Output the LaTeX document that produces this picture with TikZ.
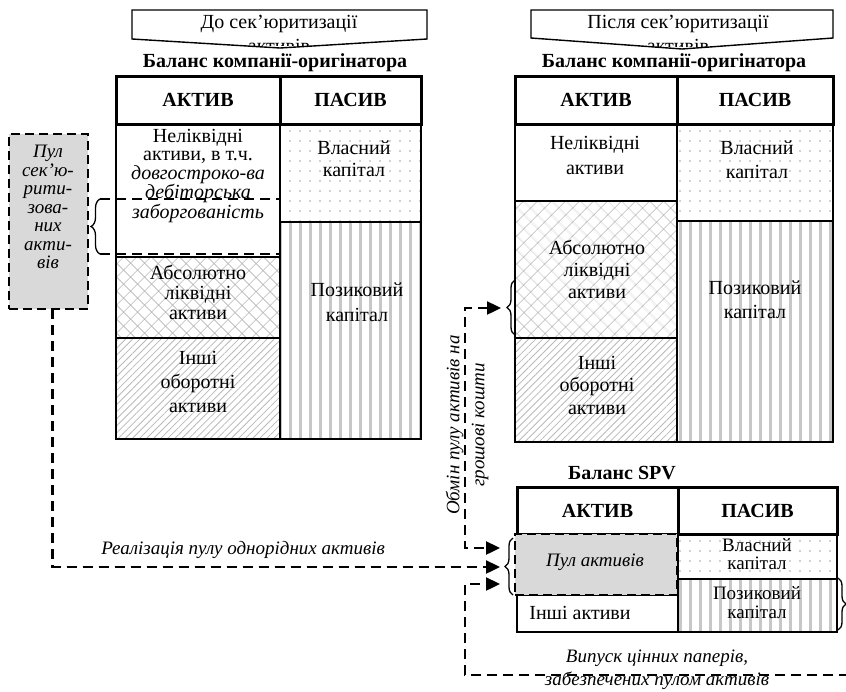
\documentclass[tikz,border=0pt]{standalone}
\usepackage{fontspec}
\setmainfont{Liberation Serif}
\usetikzlibrary{patterns.meta,decorations.pathreplacing,arrows.meta,fit}

\begin{document}
\begin{tikzpicture}[x=1pt,y=-1pt,
  every node/.style={inner sep=0pt, outer sep=0pt},
  txt/.style={font=\fontsize{20}{#1}\selectfont, align=center},
  txt/.default=20,
  stxt/.style={font=\fontsize{19}{#1}\selectfont, align=center},
  stxt/.default=18,
  itxt/.style={font=\fontsize{19}{#1}\selectfont\itshape, align=center},
  itxt/.default=20,
  ttl/.style={font=\fontsize{20}{20}\selectfont\bfseries},
  cellbox/.style={draw, line width=1.6pt},
  headbox/.style={draw, line width=3pt},
  dotfill/.style={pattern={Dots[radius=0.9pt,distance=10pt]}, pattern color=black!35},
  stripefill/.style={pattern={Lines[angle=90,distance=10pt,line width=3pt]}, pattern color=black!22},
  crossfill/.style={pattern={Hatch[angle=45,distance=10.5pt,line width=0.8pt]}, pattern color=black!28},
  diagfill/.style={pattern={Lines[angle=45,distance=5pt,line width=0.8pt]}, pattern color=black!28},
  poolbox/.style={fill=black!15, draw, line width=2.6pt, dash pattern=on 9pt off 5pt},
  flow/.style={line width=2.4pt, dash pattern=on 10pt off 6pt},
  bracket/.style={decorate, decoration={brace, amplitude=#1}, line width=1.3pt},
  bracket/.default=9pt,
  >={Triangle[length=14pt,width=13pt]},
  banner/.style={draw, fill=white, line width=1.4pt}
]
\useasboundingbox (0,0) rectangle (846,691);

% ---------- banners (overflowing second line is cut by the shape) ----------
\draw[banner] (132,10) -- (427,10) -- (427,39) -- (280,48) -- (132,39) -- cycle;
\begin{scope}
  \clip (132,0) rectangle (427,45.5);
  \node[txt=24] (bannerL) at (279,33.5) {До сек’юритизації\\активів};
\end{scope}
\draw[banner] (531,10) -- (833,10) -- (833,38) -- (682,49) -- (531,38) -- cycle;
\begin{scope}
  \clip (531,0) rectangle (833,46);
  \node[txt=24] (bannerR) at (678,33.5) {Після сек’юритизації\\активів};
\end{scope}

% ---------- originator balance, before ----------
\node[ttl] (titleL) at (275,63) {Баланс компанії-оригінатора};
\node[cellbox, fit={(116,124)(280,257)}] (L1) {};
\node[cellbox, crossfill, fit={(116,257)(280,338)}] (L2) {};
\node[cellbox, diagfill, fit={(116,338)(280,439)}] (L3) {};
\node[cellbox, dotfill, fit={(280,124)(421,222)}] (L4) {};
\node[cellbox, stripefill, fit={(280,222)(421,439)}] (L5) {};
\node[headbox, fit={(116,76)(280,124)}] (hLa) {};
\node[headbox, fit={(280,76)(421,124)}] (hLp) {};
\node[ttl] at (hLa.center) {АКТИВ};
\node[ttl] at (hLp.center) {ПАСИВ};
\node[txt=18.5] (tL1) at (198,176) {Неліквідні\\активи, в т.ч.\\\textit{довгостроко-ва}\\\textit{дебіторська}\\\textit{заборгованість}};
\node[txt=20] (tL2) at (198,292) {Абсолютно\\ліквідні\\активи};
\node[txt=24] (tL3) at (198,382) {Інші\\оборотні\\активи};
\node[txt=22] (tL4) at (354,159) {Власний\\капітал};
\node[txt=25] (tL5) at (357,302) {Позиковий\\капітал};

% part of the illiquid assets that forms the pool
\coordinate (segTop) at (100,199);
\coordinate (segBot) at (100,254);
\draw[flow] (segTop) -- (L1.east |- segTop);
\draw[flow] (segBot) -- (L1.east |- segBot);
\draw[bracket=9pt] (segBot) -- (segTop);

% pool of securitised assets
\node[poolbox, fit={(9,134)(88,309)}] (poolL) {};
\node[itxt=18.5] (tPool) at (48,207) {Пул\\сек’ю-\\рити-\\зова-\\них\\акти-\\вів};

% ---------- originator balance, after ----------
\node[ttl] (titleR) at (674,63) {Баланс компанії-оригінатора};
\node[cellbox, fit={(515,124)(677,201)}] (R1) {};
\node[cellbox, crossfill, fit={(515,201)(677,338)}] (R2) {};
\node[cellbox, diagfill, fit={(515,338)(677,442)}] (R3) {};
\node[cellbox, dotfill, fit={(677,124)(833,221)}] (R4) {};
\node[cellbox, stripefill, fit={(677,221)(833,442)}] (R5) {};
\node[headbox, fit={(515,76)(677,124)}] (hRa) {};
\node[headbox, fit={(677,76)(833,124)}] (hRp) {};
\node[ttl] at (hRa.center) {АКТИВ};
\node[ttl] at (hRp.center) {ПАСИВ};
\node[txt=25] (tR1) at (595,155) {Неліквідні\\активи};
\node[txt=24] (tR4) at (757,160) {Власний\\капітал};
\node[txt=22] (tR2) at (597,269) {Абсолютно\\ліквідні\\активи};
\node[txt=24] (tR5) at (755,300) {Позиковий\\капітал};
\node[txt=22.5] (tR3) at (597,385) {Інші\\оборотні\\активи};
\coordinate (cashTop) at (515,280);
\coordinate (cashBot) at (515,335);
\draw[bracket=8pt] (cashBot) -- (cashTop);
\coordinate (inCash) at (501,308);

% ---------- SPV balance ----------
\node[ttl] (titleS) at (622,473) {Баланс SPV};
\node[cellbox, fit={(517,595)(678,632)}] (S2) {};
\node[cellbox, dotfill, fit={(678,534)(837,579)}] (S3) {};
\node[cellbox, stripefill, fit={(678,579)(837,632)}] (S4) {};
\node[headbox, fit={(517,487)(678,534)}] (hSa) {};
\node[headbox, fit={(678,487)(837,534)}] (hSp) {};
\node[ttl] at (hSa.center) {АКТИВ};
\node[ttl] at (hSp.center) {ПАСИВ};
\node[poolbox, line width=2.2pt, fit={(515,534)(677,595)}] (S1) {};
\node[itxt] (tS1) at (595,562) {Пул активів};
\node[txt] (tS2) at (580,613) {Інші активи};
\node[stxt=18] (tS3) at (757,554) {Власний\\капітал};
\node[stxt=19] (tS4) at (757,603) {Позиковий\\капітал};
\coordinate (spvTop) at (513,538);
\coordinate (spvBot) at (513,595);
\draw[bracket=8pt] (spvBot) -- (spvTop);
\coordinate (bondTop) at (838,578);
\coordinate (bondBot) at (838,630);
\draw[bracket=8pt] (bondTop) -- (bondBot);
\coordinate (bondTip) at (846,604);

\coordinate (inUp) at (500,548);
\coordinate (inMid) at (500,567);
\coordinate (inLow) at (500,584);

% ---------- flows ----------
\draw[flow, ->] ([xshift=4pt]poolL.south) |- (inMid);
\node[itxt] (lblSale) at (243,550) {Реалізація пулу однорідних активів};

\draw[flow, <->] (inCash) -- (465,308) -- (465,548) -- (inUp);
\node[itxt=25, rotate=90] (lblSwap) at (467,425) {Обмін пулу активів на\\грошові кошти};

\draw[flow, ->] (bondTip) -- (860,604) -- (860,675) -- (465,675) -- (465,584) -- (inLow);
\node[itxt=23] (lblIssue) at (657,670) {Випуск цінних паперів,\\забезпечених пулом активів};
\end{tikzpicture}
\end{document}
